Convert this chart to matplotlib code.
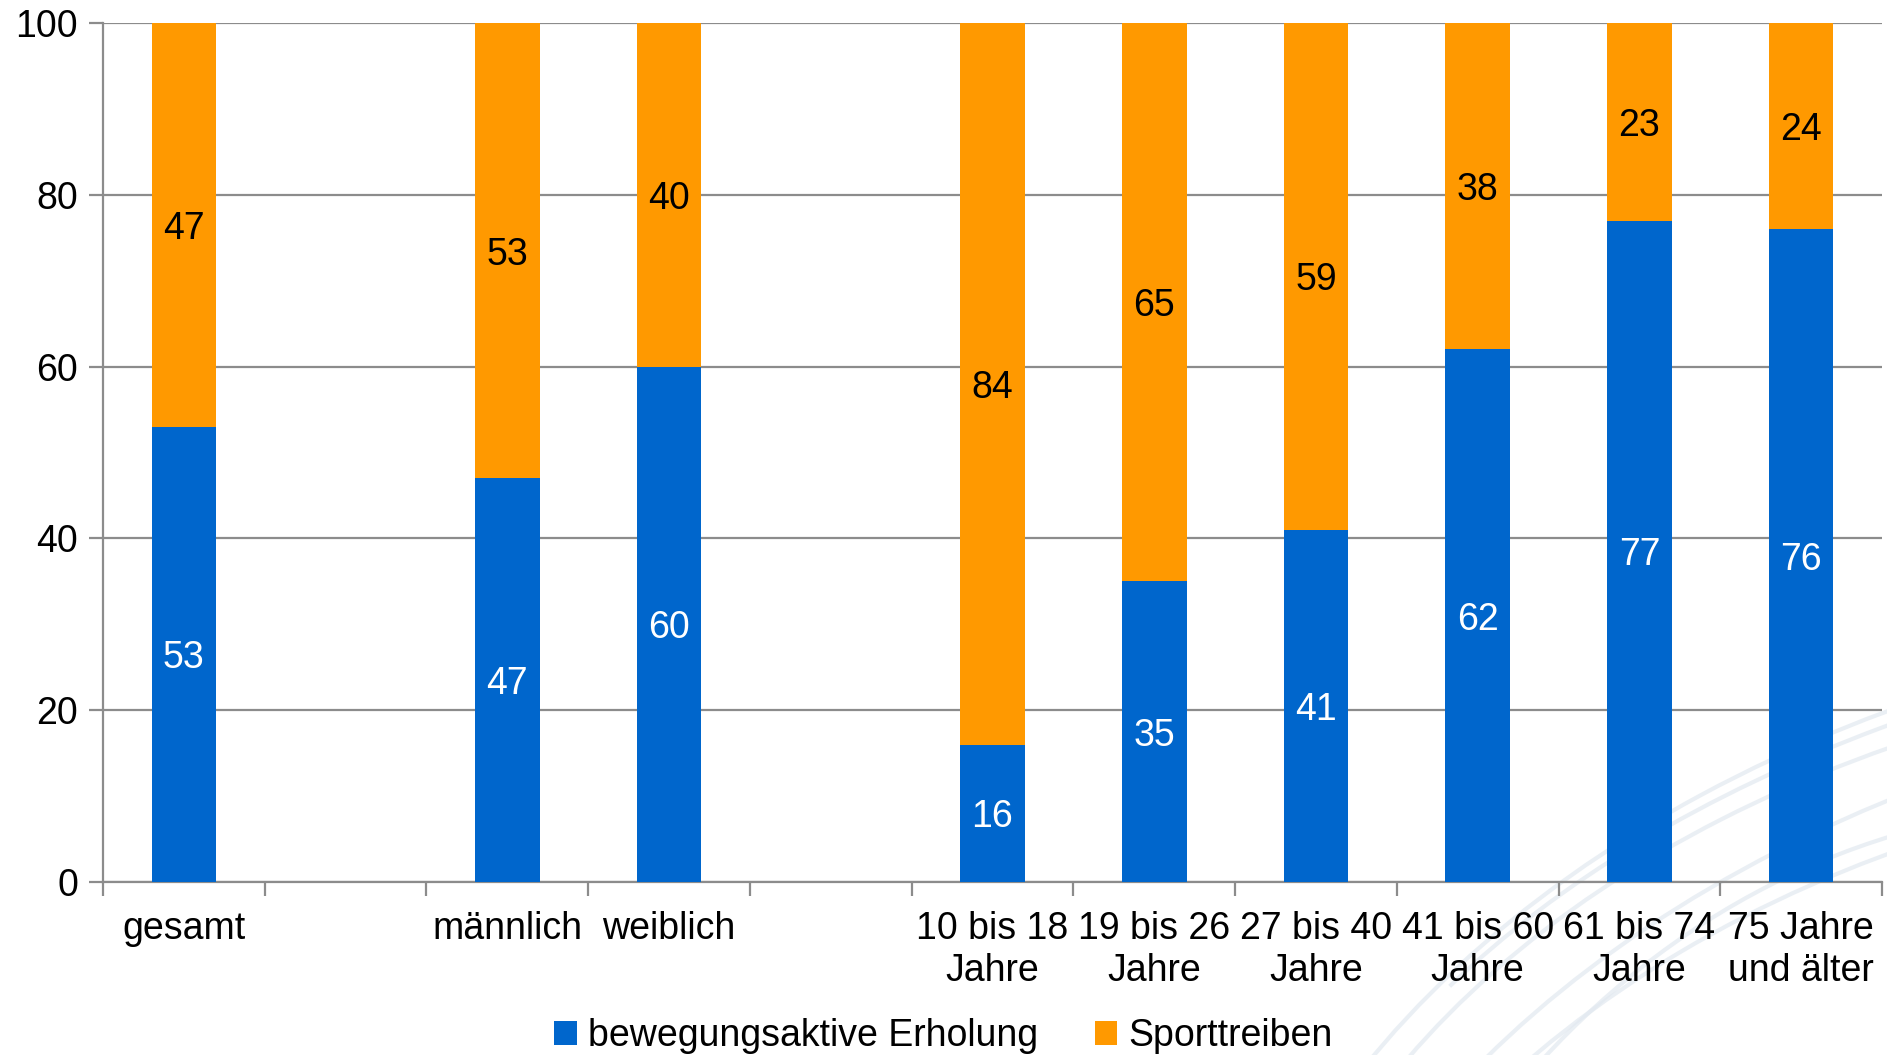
import matplotlib
matplotlib.use("Agg")
import matplotlib.pyplot as plt
import numpy as np
from matplotlib.patches import Arc

plt.rcParams['font.family'] = ['Liberation Sans', 'DejaVu Sans']

# Groups; empty strings are spacer slots between group blocks
categories = ["gesamt", "", "männlich", "weiblich", "",
              "10 bis 18\nJahre", "19 bis 26\nJahre", "27 bis 40\nJahre",
              "41 bis 60\nJahre", "61 bis 74\nJahre", "75 Jahre\nund älter"]
erholung = [53, None, 47, 60, None, 16, 35, 41, 62, 77, 76]
sport = [47, None, 53, 40, None, 84, 65, 59, 38, 23, 24]
series_names = ["bewegungsaktive Erholung", "Sporttreiben"]
yticks = [0, 20, 40, 60, 80, 100]

blue = "#0066CC"
orange = "#FF9900"
grid_col = "#8C8C8C"
FS = 27

fig = plt.figure(figsize=(18.87, 10.55), dpi=100)

# faint decorative swirl in the lower right background
bg = fig.add_axes([0, 0, 1, 1], zorder=-5)
bg.set_xlim(0, 1887)
bg.set_ylim(0, 1055)
bg.axis("off")
swirl = [((2500, -450), 2600, 1800, 100, 165),
         ((2550, -520), 2600, 1800, 100, 163),
         ((2450, -400), 2400, 1600, 100, 165),
         ((2400, -560), 2300, 1700, 100, 165),
         ((2600, -350), 2700, 1600, 100, 160),
         ((2100, -650), 1600, 1800, 70, 150)]
for (cx, cy), w_, h_, t1, t2 in swirl:
    bg.add_patch(Arc((cx, cy), w_, h_, theta1=t1, theta2=t2,
                     color="#E2E9F0", lw=3, alpha=0.7))

ax = fig.add_axes([103 / 1887, 1 - 882 / 1055, (1882 - 103) / 1887, (882 - 23) / 1055])
ax.set_facecolor("none")

x = np.arange(len(categories))
e_vals = np.array([v if v is not None else 0 for v in erholung], dtype=float)
s_vals = np.array([v if v is not None else 0 for v in sport], dtype=float)
mask = np.array([v is not None for v in erholung])

w = 0.40
b1 = ax.bar(x[mask], e_vals[mask], width=w, color=blue, label=series_names[0], zorder=3)
b2 = ax.bar(x[mask], s_vals[mask], width=w, bottom=e_vals[mask], color=orange,
            label=series_names[1], zorder=3)

for xi, e, s in zip(x[mask], e_vals[mask], s_vals[mask]):
    ax.text(xi, e / 2, f"{int(e)}", ha="center", va="center_baseline", color="white",
            fontsize=FS, zorder=4)
    ax.text(xi, e + s / 2, f"{int(s)}", ha="center", va="center_baseline", color="black",
            fontsize=FS, zorder=4)

ax.set_xlim(-0.5, len(categories) - 0.5)
ax.set_ylim(0, 100)
ax.set_yticks(yticks)
ax.set_yticklabels([str(t) for t in yticks], fontsize=FS)
ax.yaxis.grid(True, color=grid_col, lw=1.6, zorder=0)
ax.set_axisbelow(True)

ax.set_xticks(np.arange(-0.5, len(categories), 1.0))
ax.set_xticklabels([])
ax.set_xticks(x, minor=True)
ax.set_xticklabels(categories, minor=True, fontsize=FS, linespacing=1.2)
ax.tick_params(axis="x", which="major", length=10, width=1.6, color=grid_col)
ax.tick_params(axis="x", which="minor", length=0, pad=21)
ax.tick_params(axis="y", length=10, width=1.6, color=grid_col, pad=8)

for side in ["top", "right"]:
    ax.spines[side].set_visible(False)
for side in ["left", "bottom"]:
    ax.spines[side].set_color(grid_col)
    ax.spines[side].set_linewidth(1.6)

fig.legend(handles=[b1, b2], labels=series_names, loc="center",
           bbox_to_anchor=(0.5, 1 - 1036 / 1055), ncol=2, frameon=False,
           fontsize=FS, handlelength=0.6, handleheight=0.6, handletextpad=0.3,
           columnspacing=1.5)

fig.savefig("out.png", dpi=100)
